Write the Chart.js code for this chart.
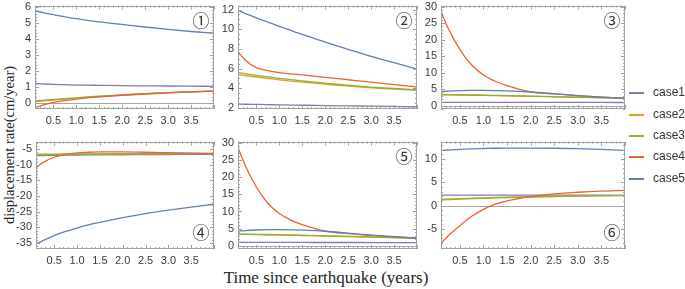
<!DOCTYPE html>
<html><head><meta charset="utf-8">
<script src="https://cdn.jsdelivr.net/npm/chart.js@4/dist/chart.umd.min.js"></script>
<style>
html,body{margin:0;padding:0;background:#fff;}
body{width:685px;height:289px;position:relative;overflow:hidden;}
canvas{position:absolute;}
.lg{position:absolute;left:629px;height:20px;font:12px "Liberation Sans",Arial,sans-serif;color:#333;}
.lg span.ln{position:absolute;left:0;top:9px;width:15px;height:1.5px;}
.lg span.tx{position:absolute;left:24px;top:2px;white-space:nowrap;}
#xt{position:absolute;left:0;width:652px;top:268px;text-align:center;font:17px "Liberation Serif","Times New Roman",serif;color:#222;}
#yt{position:absolute;left:9px;top:145px;transform:translate(-50%,-50%) rotate(-90deg);white-space:nowrap;font:14.5px "Liberation Serif","Times New Roman",serif;color:#222;}
</style></head><body>
<div id="xt">Time since earthquake (years)</div>
<div id="yt">displacement rate(cm/year)</div>
<script>
// ---------------- data ----------------
const xValues = [0.1, 0.25, 0.5, 0.75, 1, 1.25, 1.5, 2, 2.5, 3, 3.5, 4];
const seriesNames = ['case1', 'case2', 'case3', 'case4', 'case5'];
const seriesColors = ['#8778B3', '#E19C24', '#8FB032', '#EB6235', '#5E81B5'];
const xTicks = [0.5, 1.0, 1.5, 2.0, 2.5, 3.0, 3.5];
const xTickLabels = ['0.5', '1.0', '1.5', '2.0', '2.5', '3.0', '3.5'];
const panelLabels = ['①', '②', '③', '④', '⑤', '⑥'];

// panel 1
const p1Case1 = [1.22, 1.20, 1.17, 1.15, 1.13, 1.12, 1.11, 1.09, 1.08, 1.07, 1.06, 1.05];
const p1Case2 = [0.08, 0.12, 0.19, 0.25, 0.31, 0.36, 0.41, 0.50, 0.58, 0.65, 0.70, 0.75];
const p1Case3 = [0.14, 0.17, 0.23, 0.28, 0.33, 0.38, 0.43, 0.52, 0.59, 0.66, 0.71, 0.76];
const p1Case4 = [-0.30, -0.14, 0.04, 0.16, 0.25, 0.33, 0.39, 0.49, 0.57, 0.64, 0.70, 0.75];
const p1Case5 = [5.78, 5.68, 5.53, 5.40, 5.28, 5.18, 5.08, 4.92, 4.76, 4.61, 4.48, 4.37];
const p1YTicks = [0, 1, 2, 3, 4, 5, 6];

// panel 2
const p2Case1 = [2.40, 2.38, 2.36, 2.34, 2.32, 2.30, 2.28, 2.25, 2.22, 2.19, 2.16, 2.13];
const p2Case2 = [5.40, 5.30, 5.15, 5.00, 4.86, 4.74, 4.63, 4.42, 4.22, 4.05, 3.92, 3.80];
const p2Case3 = [5.60, 5.50, 5.32, 5.16, 5.01, 4.88, 4.76, 4.53, 4.32, 4.13, 3.98, 3.86];
const p2Case4 = [7.75, 6.90, 6.10, 5.80, 5.60, 5.47, 5.36, 5.12, 4.87, 4.62, 4.38, 4.13];
const p2Case5 = [11.90, 11.62, 11.15, 10.72, 10.30, 9.88, 9.47, 8.70, 7.95, 7.25, 6.60, 5.95];
const p2YTicks = [2, 4, 6, 8, 10, 12];

// panel 3
const p3Case1 = [1.02, 1.02, 1.01, 1.01, 1.00, 1.00, 1.00, 0.99, 0.99, 0.98, 0.98, 0.97];
const p3Case2 = [3.30, 3.28, 3.22, 3.16, 3.10, 3.03, 2.96, 2.82, 2.67, 2.52, 2.37, 2.22];
const p3Case3 = [3.40, 3.38, 3.32, 3.26, 3.20, 3.13, 3.06, 2.90, 2.74, 2.58, 2.42, 2.26];
const p3Case4 = [28.5, 23.5, 17.0, 12.3, 9.3, 7.4, 6.1, 4.2, 3.55, 3.05, 2.6, 2.25];
const p3Case5 = [4.25, 4.40, 4.55, 4.62, 4.62, 4.58, 4.50, 4.15, 3.60, 3.05, 2.62, 2.28];
const p3YTicks = [0, 5, 10, 15, 20, 25, 30];

// panel 4
const p4Case1 = [-7.10, -7.05, -7.00, -6.95, -6.90, -6.87, -6.85, -6.80, -6.75, -6.72, -6.70, -6.68];
const p4Case2 = [-6.60, -6.60, -6.58, -6.55, -6.52, -6.50, -6.48, -6.45, -6.42, -6.40, -6.38, -6.37];
const p4Case3 = [-6.85, -6.82, -6.78, -6.74, -6.70, -6.66, -6.62, -6.56, -6.50, -6.46, -6.43, -6.40];
const p4Case4 = [-11.0, -9.3, -7.6, -6.7, -6.2, -6.0, -5.9, -5.9, -6.0, -6.15, -6.3, -6.45];
const p4Case5 = [-35.3, -34.2, -32.6, -31.3, -30.2, -29.2, -28.4, -26.9, -25.6, -24.5, -23.5, -22.6];
const p4YTicks = [-35, -30, -25, -20, -15, -10, -5];

// panel 5
const p5Case1 = [1.02, 1.02, 1.01, 1.01, 1.00, 1.00, 1.00, 0.99, 0.99, 0.98, 0.98, 0.97];
const p5Case2 = [3.35, 3.33, 3.27, 3.21, 3.15, 3.08, 3.00, 2.85, 2.70, 2.54, 2.38, 2.22];
const p5Case3 = [3.45, 3.43, 3.37, 3.31, 3.25, 3.18, 3.10, 2.94, 2.77, 2.60, 2.43, 2.26];
const p5Case4 = [28.6, 23.6, 17.1, 12.4, 9.4, 7.5, 6.2, 4.3, 3.55, 3.05, 2.6, 2.25];
const p5Case5 = [4.30, 4.45, 4.62, 4.70, 4.70, 4.65, 4.57, 4.25, 3.70, 3.15, 2.68, 2.30];
const p5YTicks = [0, 5, 10, 15, 20, 25, 30];

// panel 6
const p6Case1 = [2.25, 2.25, 2.24, 2.24, 2.24, 2.23, 2.23, 2.22, 2.22, 2.21, 2.21, 2.20];
const p6Case2 = [1.35, 1.40, 1.50, 1.58, 1.66, 1.73, 1.80, 1.91, 2.00, 2.08, 2.14, 2.20];
const p6Case3 = [1.20, 1.27, 1.38, 1.47, 1.56, 1.64, 1.71, 1.83, 1.93, 2.01, 2.08, 2.14];
const p6Case4 = [-8.1, -6.5, -4.3, -2.3, -0.8, 0.3, 1.0, 1.9, 2.5, 2.85, 3.1, 3.25];
const p6Case5 = [11.80, 11.90, 12.05, 12.15, 12.22, 12.28, 12.30, 12.32, 12.28, 12.18, 12.02, 11.80];
const p6YTicks = [-5, 0, 5, 10];

// ---------------- layout ----------------
const panels = [
  {series: [p1Case1, p1Case2, p1Case3, p1Case4, p1Case5], yTicks: p1YTicks, yMin: -0.37, yMax: 6.1, yMinor: 0.2, yMajor: 1, box: [35, 3, 214, 109], lab: 'top'},
  {series: [p2Case1, p2Case2, p2Case3, p2Case4, p2Case5], yTicks: p2YTicks, yMin: 1.9, yMax: 12.4, yMinor: 0.5, yMajor: 2, box: [238, 3, 417, 109], lab: 'top'},
  {series: [p3Case1, p3Case2, p3Case3, p3Case4, p3Case5], yTicks: p3YTicks, yMin: -1.0, yMax: 30.3, yMinor: 1, yMajor: 5, box: [441, 3, 625, 109], lab: 'top'},
  {series: [p4Case1, p4Case2, p4Case3, p4Case4, p4Case5], yTicks: p4YTicks, yMin: -36.9, yMax: -2.6, yMinor: 1, yMajor: 5, box: [36, 139, 214, 249], lab: 'bottom'},
  {series: [p5Case1, p5Case2, p5Case3, p5Case4, p5Case5], yTicks: p5YTicks, yMin: -0.9, yMax: 30.3, yMinor: 1, yMajor: 5, box: [238, 139, 417, 249], lab: 'top'},
  {series: [p6Case1, p6Case2, p6Case3, p6Case4, p6Case5], yTicks: p6YTicks, yMin: -9.3, yMax: 13.7, yMinor: 1, yMajor: 5, box: [441, 139, 625, 249], lab: 'bottom'}
];

const YW = 34, XH = 22, PT = 8, PR = 6;
const tickFont = {family: '"Liberation Sans", Arial, sans-serif', size: 11};
const tickColor = '#3a3a3a';

const frameTicks = {
  id: 'frameTicks',
  beforeDatasetsDraw(chart, args, o) {
    const {ctx, chartArea: a, scales: {y}} = chart;
    if (y.min < 0 && y.max > 0) {
      const py = Math.round(y.getPixelForValue(0)) + 0.5;
      ctx.save();
      ctx.strokeStyle = '#a6a6a6'; ctx.lineWidth = 1;
      ctx.beginPath(); ctx.moveTo(a.left, py); ctx.lineTo(a.right, py); ctx.stroke();
      ctx.restore();
    }
  },
  afterDatasetsDraw(chart, args, o) {
    const {ctx, chartArea: a, scales: {x, y}} = chart;
    ctx.save();
    ctx.strokeStyle = '#a0a0a0'; ctx.lineWidth = 1;
    ctx.strokeRect(Math.round(a.left) + 0.5, Math.round(a.top) + 0.5, Math.round(a.right - a.left) - 1, Math.round(a.bottom - a.top) - 1);
    ctx.beginPath();
    for (let k = Math.ceil(x.min * 10 - 1e-6); k <= Math.floor(x.max * 10 + 1e-6); k++) {
      const px = Math.round(x.getPixelForValue(k / 10)) + 0.5;
      const len = (k % 5 === 0) ? 4 : 2;
      ctx.moveTo(px, a.bottom); ctx.lineTo(px, a.bottom - len);
      ctx.moveTo(px, a.top); ctx.lineTo(px, a.top + len);
    }
    const ms = o.yMinor, mj = o.yMajor;
    for (let k = Math.ceil(y.min / ms - 1e-6); k * ms <= y.max + 1e-9; k++) {
      const v = k * ms;
      const py = Math.round(y.getPixelForValue(v)) + 0.5;
      const r = v / mj;
      const len = Math.abs(r - Math.round(r)) < 1e-6 ? 4 : 2;
      ctx.moveTo(a.left, py); ctx.lineTo(a.left + len, py);
      ctx.moveTo(a.right, py); ctx.lineTo(a.right - len, py);
    }
    ctx.stroke();
    ctx.fillStyle = '#333';
    ctx.font = '17px "Noto Sans CJK JP", "DejaVu Sans", sans-serif';
    ctx.textAlign = 'center'; ctx.textBaseline = 'middle';
    const ly = o.lab === 'top' ? a.top + 15 : a.bottom - 16;
    ctx.fillText(o.label, a.right - 13, ly);
    ctx.restore();
  }
};

panels.forEach((p, idx) => {
  const [L, T, R, B] = p.box;
  const c = document.createElement('canvas');
  const w = YW + (R - L) + PR, h = PT + (B - T) + XH;
  c.width = w; c.height = h;
  c.style.left = (L - YW) + 'px'; c.style.top = (T - PT) + 'px';
  c.style.width = w + 'px'; c.style.height = h + 'px';
  document.body.appendChild(c);
  new Chart(c, {
    type: 'line',
    data: {
      datasets: seriesNames.map((n, i) => ({
        label: n,
        data: xValues.map((xv, j) => ({x: xv, y: p.series[i][j]})),
        borderColor: seriesColors[i], backgroundColor: seriesColors[i],
        borderWidth: 1.3, pointRadius: 0, fill: false,
        cubicInterpolationMode: 'monotone', order: 4 - i
      }))
    },
    options: {
      responsive: false, animation: false, devicePixelRatio: 1,
      layout: {padding: {top: PT, right: PR, left: 0, bottom: 0}, autoPadding: false},
      plugins: {
        legend: {display: false}, tooltip: {enabled: false},
        frameTicks: {yMinor: p.yMinor, yMajor: p.yMajor, label: panelLabels[idx], lab: p.lab}
      },
      scales: {
        x: {
          type: 'linear', min: 0.1, max: 4,
          afterBuildTicks: s => { s.ticks = xTicks.map(v => ({value: v})); },
          afterFit: s => { s.height = XH; },
          grid: {display: false, drawTicks: false}, border: {display: false},
          ticks: {font: tickFont, color: tickColor, padding: 5, maxRotation: 0, autoSkip: false,
                  callback: (v) => xTickLabels[xTicks.indexOf(v)]}
        },
        y: {
          type: 'linear', min: p.yMin, max: p.yMax,
          afterBuildTicks: s => { s.ticks = p.yTicks.map(v => ({value: v})); },
          afterFit: s => { s.width = YW; },
          grid: {display: false, drawTicks: false}, border: {display: false},
          ticks: {font: tickFont, color: tickColor, padding: 4, autoSkip: false,
                  callback: (v) => String(v)}
        }
      }
    },
    plugins: [frameTicks]
  });
});

// legend
const legendTops = [83, 105, 126, 147, 169];
seriesNames.forEach((n, i) => {
  const d = document.createElement('div');
  d.className = 'lg'; d.style.top = legendTops[i] + 'px';
  d.innerHTML = '<span class="ln" style="background:' + seriesColors[i] + '"></span><span class="tx"></span>';
  d.querySelector('.tx').textContent = n;
  document.body.appendChild(d);
});
</script>
</body></html>
